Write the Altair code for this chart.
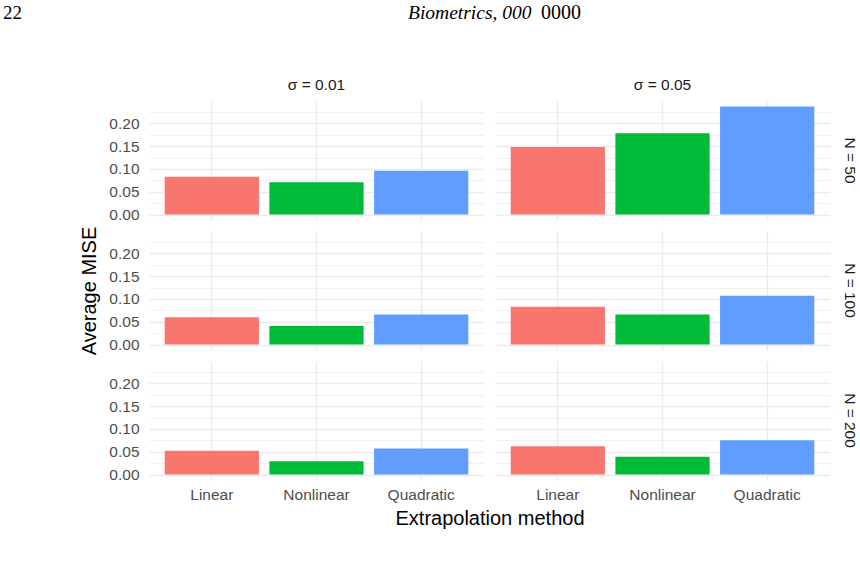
import altair as alt
import pandas as pd

# Factor levels
methods = ["Linear", "Nonlinear", "Quadratic"]
sigma_levels = ["σ = 0.01", "σ = 0.05"]
n_levels = ["N = 50", "N = 100", "N = 200"]
method_colors = ["#F8766D", "#00BA38", "#619CFF"]

# Average MISE per method (Linear, Nonlinear, Quadratic) for each panel
mise_s001_n50 = [0.083, 0.071, 0.096]
mise_s001_n100 = [0.060, 0.041, 0.066]
mise_s001_n200 = [0.052, 0.029, 0.057]
mise_s005_n50 = [0.148, 0.178, 0.237]
mise_s005_n100 = [0.083, 0.066, 0.107]
mise_s005_n200 = [0.062, 0.039, 0.075]

# Running page header
page_number = ["22"]
journal_name = ["Biometrics, 000"]
journal_issue = ["0000"]

panels = {
    ("σ = 0.01", "N = 50"): mise_s001_n50,
    ("σ = 0.01", "N = 100"): mise_s001_n100,
    ("σ = 0.01", "N = 200"): mise_s001_n200,
    ("σ = 0.05", "N = 50"): mise_s005_n50,
    ("σ = 0.05", "N = 100"): mise_s005_n100,
    ("σ = 0.05", "N = 200"): mise_s005_n200,
}
rows = []
for (sig, n), vals in panels.items():
    for m, v in zip(methods, vals):
        rows.append({"sigma": sig, "n": n, "method": m, "mise": v})
df = pd.DataFrame(rows)

# ggplot-style 5% expansion of the shared y range
vmax = df["mise"].max()
y_lo, y_hi = -0.05 * vmax, vmax * 1.05
tick_vals = [round(i * 0.025, 3) for i in range(10)]
is_major = "round(datum.value * 1000) % 50 == 0"

font = "Liberation Sans"
label_size = 15.5
title_size = 20

bars = alt.Chart(df).mark_bar().encode(
    x=alt.X(
        "method:N",
        sort=methods,
        scale=alt.Scale(paddingInner=0.1, paddingOuter=0.15),
        axis=alt.Axis(
            title=None,
            labelAngle=0,
            bandPosition=0.5,
            grid=True,
            gridColor="#EBEBEB",
            gridWidth=1.4,
            ticks=False,
            domain=False,
            labelPadding=7,
            labelFontSize=label_size,
            labelColor="#4D4D4D",
            labelFont=font,
        ),
    ),
    y=alt.Y(
        "mise:Q",
        scale=alt.Scale(domain=[y_lo, y_hi], nice=False, zero=False),
        axis=alt.Axis(
            title=None,
            values=tick_vals,
            labelExpr=f"{is_major} ? format(datum.value, '.2f') : ''",
            grid=True,
            gridColor="#EBEBEB",
            gridWidth={"condition": {"test": is_major, "value": 1.4}, "value": 0.7},
            ticks=False,
            domain=False,
            labelPadding=10,
            labelFontSize=label_size,
            labelColor="#4D4D4D",
            labelFont=font,
        ),
    ),
    color=alt.Color(
        "method:N",
        scale=alt.Scale(domain=methods, range=method_colors),
        legend=None,
    ),
).properties(width=335, height=119)

grid = bars.facet(
    row=alt.Row(
        "n:N",
        sort=n_levels,
        title="Average MISE",
        header=alt.Header(
            labelAngle=90,
            labelOrient="right",
            labelFontSize=label_size,
            labelColor="#1A1A1A",
            labelFont=font,
            labelPadding=11,
            titleOrient="left",
            titleFont=font,
            titleFontSize=title_size,
            titleFontWeight="normal",
            titleColor="#000000",
            titlePadding=-2,
        ),
    ),
    column=alt.Column(
        "sigma:N",
        sort=sigma_levels,
        title="Extrapolation method",
        header=alt.Header(
            labelOrient="top",
            labelFontSize=label_size,
            labelColor="#1A1A1A",
            labelFont=font,
            labelPadding=8,
            titleOrient="bottom",
            titleFont=font,
            titleFontSize=title_size,
            titleFontWeight="normal",
            titleColor="#000000",
            titlePadding=-4,
        ),
    ),
    spacing=11,
)

serif = "Liberation Serif"
head_num = alt.Chart(pd.DataFrame({"t": page_number})).mark_text(
    font=serif, fontSize=19, align="left", baseline="alphabetic"
).encode(text="t:N", x=alt.value(-146), y=alt.value(19))
head_name = alt.Chart(pd.DataFrame({"t": journal_name})).mark_text(
    font=serif, fontSize=19.5, fontStyle="italic", align="left", baseline="alphabetic"
).encode(text="t:N", x=alt.value(259), y=alt.value(19))
head_issue = alt.Chart(pd.DataFrame({"t": journal_issue})).mark_text(
    font=serif, fontSize=20, align="left", baseline="alphabetic"
).encode(text="t:N", x=alt.value(392), y=alt.value(19))

page_head = alt.layer(head_num, head_name, head_issue).properties(width=682, height=30)

chart = alt.vconcat(page_head, grid, spacing=47).properties(
    background="white",
    padding={"left": 3, "top": 0, "right": 0, "bottom": 0},
).configure_view(stroke=None)

chart.save("out.html", embed_options={"renderer": "svg", "actions": False})
